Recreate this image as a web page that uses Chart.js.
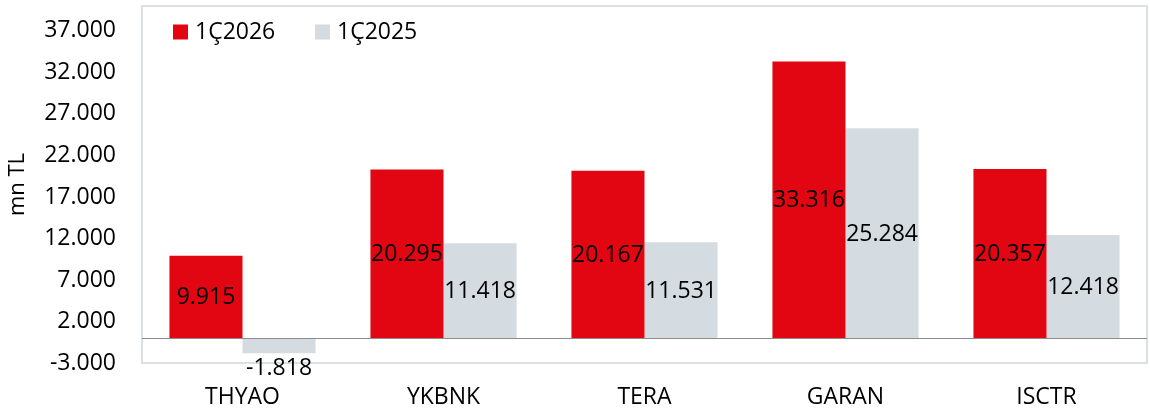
<!DOCTYPE html>
<html>
<head>
<meta charset="utf-8">
<script src="https://cdn.jsdelivr.net/npm/chart.js@4"></script>
<style>
    html, body { margin: 0; padding: 0; background: #fff; }
    #wrap { width: 1150px; height: 414px; }
</style>
</head>
<body>
<div id="wrap"><canvas id="chartKar"></canvas></div>
<script>
// Veriler (mn TL)
const sirketler = ["THYAO", "YKBNK", "TERA", "GARAN", "ISCTR"];
const kar2026 = [9915, 20295, 20167, 33316, 20357];
const kar2025 = [-1818, 11418, 11531, 25284, 12418];
const yTikler = [-3000, 2000, 7000, 12000, 17000, 22000, 27000, 32000, 37000];

const FONT = "'Open Sans', sans-serif";
const fmt = (v) => v.toLocaleString("tr-TR");

// çizim alanı çerçevesi + sıfır çizgisi
const cerceve = {
    id: "cerceve",
    beforeDatasetsDraw(chart) {
        const { ctx, chartArea: a } = chart;
        ctx.save();
        ctx.strokeStyle = "#d9e1e7";
        ctx.lineWidth = 2;
        ctx.strokeRect(a.left, a.top, a.right - a.left, a.bottom - a.top);
        ctx.restore();
    },
    afterDatasetsDraw(chart) {
        const { ctx, chartArea: a, scales } = chart;
        const y0 = Math.round(scales.y.getPixelForValue(0)) + 0.5;
        ctx.save();
        ctx.strokeStyle = "#8c8c8c";
        ctx.lineWidth = 1;
        ctx.beginPath();
        ctx.moveTo(a.left, y0);
        ctx.lineTo(a.right, y0);
        ctx.stroke();
        ctx.restore();
    }
};

// değer etiketleri + lejant (çizim alanının içinde)
const etiketler = {
    id: "etiketler",
    afterDatasetsDraw(chart) {
        const { ctx, chartArea: a } = chart;
        ctx.save();
        ctx.font = "23px " + FONT;
        ctx.fillStyle = "#000";
        ctx.textAlign = "center";
        chart.data.datasets.forEach((ds, i) => {
            chart.getDatasetMeta(i).data.forEach((bar, j) => {
                const v = ds.data[j];
                if (v < 0) {
                    ctx.textBaseline = "top";
                    ctx.fillText(fmt(v), bar.x, bar.y + 4);
                } else {
                    ctx.textBaseline = "middle";
                    ctx.fillText(fmt(v), bar.x, (bar.y + bar.base) / 2 + 1);
                }
            });
        });

        // lejant
        let x = a.left + 31;
        const yc = a.top + 26;
        ctx.textAlign = "left";
        ctx.textBaseline = "middle";
        chart.data.datasets.forEach((ds) => {
            ctx.fillStyle = ds.backgroundColor;
            ctx.fillRect(x, yc - 7.5, 15, 15);
            ctx.fillStyle = "#000";
            ctx.fillText(ds.label, x + 22, yc);
            x += 142;
        });
        ctx.restore();
    }
};

new Chart(document.getElementById("chartKar"), {
    type: "bar",
    data: {
        labels: sirketler,
        datasets: [
            { label: "1Ç2026", data: kar2026, backgroundColor: "#e20613" },
            { label: "1Ç2025", data: kar2025, backgroundColor: "#d4dce1" }
        ]
    },
    options: {
        responsive: true,
        maintainAspectRatio: false,
        animation: false,
        categoryPercentage: 0.727,
        barPercentage: 1,
        layout: { padding: { top: 6, right: 3, bottom: 0, left: 0 } },
        plugins: {
            legend: { display: false },
            tooltip: { enabled: false }
        },
        scales: {
            x: {
                afterFit: (axis) => {
                    axis.height = 51;
                    axis.paddingLeft = 0;
                    axis.paddingRight = 0;
                },
                grid: { display: false, drawTicks: false },
                border: { display: false },
                ticks: {
                    font: { family: FONT, size: 23 },
                    color: "#000",
                    padding: 21
                }
            },
            y: {
                min: -3000,
                max: 40000,
                afterBuildTicks: (axis) => {
                    axis.ticks = yTikler.map(v => ({ value: v }));
                },
                afterFit: (axis) => {
                    axis.width = 142;
                    axis.paddingTop = 0;
                    axis.paddingBottom = 0;
                },
                grid: { display: false, drawTicks: false },
                border: { display: false },
                ticks: {
                    font: { family: FONT, size: 23 },
                    color: "#000",
                    padding: 26,
                    callback: (v) => fmt(v)
                },
                title: {
                    display: true,
                    text: "mn TL",
                    font: { family: FONT, size: 22 },
                    color: "#000",
                    padding: { top: 5, bottom: 0 }
                }
            }
        }
    },
    plugins: [cerceve, etiketler]
});
</script>
</body>
</html>
